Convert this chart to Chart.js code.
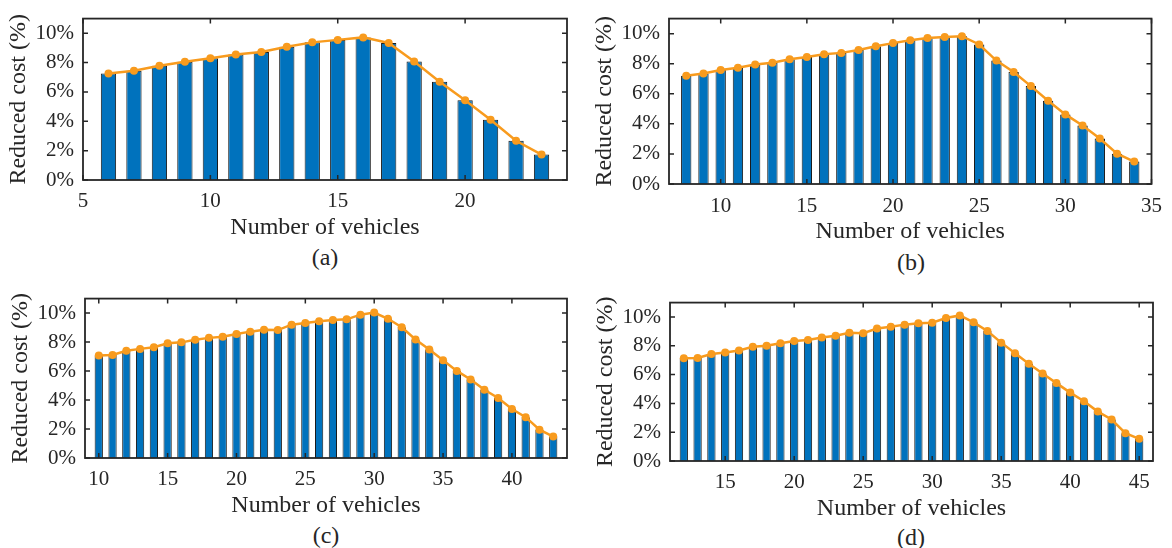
<!DOCTYPE html>
<html>
<head>
<meta charset="utf-8">
<script src="https://cdn.jsdelivr.net/npm/chart.js@4.4.0/dist/chart.umd.min.js"></script>
<style>
  body { margin:0; background:#fff; width:1172px; height:548px; overflow:hidden; position:relative;
         font-family:"Liberation Serif","Times New Roman",serif; }
  canvas { position:absolute; }
  .cap { position:absolute; font-size:24px; color:#262626; transform:translate(-50%,-50%); white-space:nowrap; }
</style>
</head>
<body>
<canvas id="chartA"></canvas>
<canvas id="chartB"></canvas>
<canvas id="chartC"></canvas>
<canvas id="chartD"></canvas>
<div class="cap" style="left:325px;top:257px">(a)</div>
<div class="cap" style="left:911px;top:262px">(b)</div>
<div class="cap" style="left:326px;top:535px">(c)</div>
<div class="cap" style="left:911px;top:537px">(d)</div>
<script>
// values (reduced cost in %)
const vehiclesA = [6,7,8,9,10,11,12,13,14,15,16,17,18,19,20,21,22,23];
const costA = [7.26,7.44,7.78,8.06,8.29,8.55,8.72,9.08,9.38,9.55,9.72,9.34,8.08,6.69,5.43,4.10,2.67,1.73];

const vehiclesB = [8,9,10,11,12,13,14,15,16,17,18,19,20,21,22,23,24,25,26,27,28,29,30,31,32,33,34];
const costB = [7.20,7.35,7.58,7.73,7.94,8.06,8.29,8.44,8.63,8.72,8.91,9.16,9.37,9.56,9.71,9.77,9.83,
               9.28,8.21,7.45,6.51,5.54,4.63,3.89,3.03,2.02,1.49];

const vehiclesC = [10,11,12,13,14,15,16,17,18,19,20,21,22,23,24,25,26,27,28,29,30,31,32,33,34,35,36,37,38,39,40,41,42,43];
const costC = [7.07,7.11,7.40,7.53,7.64,7.92,7.98,8.16,8.29,8.37,8.55,8.72,8.85,8.83,9.20,
               9.31,9.44,9.52,9.57,9.89,10.04,9.61,9.02,8.18,7.48,6.75,6.01,5.42,4.71,4.14,3.38,2.82,1.95,1.48];

const vehiclesD = [12,13,14,15,16,17,18,19,20,21,22,23,24,25,26,27,28,29,30,31,32,33,34,35,36,37,38,39,40,41,42,43,44,45];
const costD = [7.14,7.16,7.43,7.54,7.67,7.93,8.00,8.18,8.33,8.40,8.57,8.70,8.90,8.88,9.20,
               9.32,9.47,9.56,9.60,9.93,10.11,9.63,9.03,8.22,7.49,6.75,6.07,5.41,4.75,4.15,3.43,2.88,1.93,1.54];

const yTicks = [0,2,4,6,8,10];
const xTicksA = [5,10,15,20];
const xTicksB = [10,15,20,25,30,35];
const xTicksC = [10,15,20,25,30,35,40];
const xTicksD = [15,20,25,30,35,40,45];

const INK = '#262626';
const BAR = '#0072BD';
const LINE = '#F89B1E';
const FONT = '"Liberation Serif","Times New Roman",serif';

// box around the axes with inward tick marks (matlab style)
const frame = {
  id:'frame',
  afterDatasetsDraw(chart){
    const {ctx, chartArea:a, scales:{x, y}} = chart;
    ctx.save();
    ctx.strokeStyle = INK; ctx.lineWidth = 1.8;
    ctx.strokeRect(a.left, a.top, a.right-a.left, a.bottom-a.top);
    ctx.lineWidth = 1.5;
    ctx.beginPath();
    x.ticks.forEach(t => {
      const px = x.getPixelForValue(t.value);
      ctx.moveTo(px, a.bottom); ctx.lineTo(px, a.bottom-5);
      ctx.moveTo(px, a.top); ctx.lineTo(px, a.top+5);
    });
    y.ticks.forEach(t => {
      const py = y.getPixelForValue(t.value);
      ctx.moveTo(a.left, py); ctx.lineTo(a.left+5, py);
      ctx.moveTo(a.right, py); ctx.lineTo(a.right-5, py);
    });
    ctx.stroke();
    ctx.restore();
  }
};

function makePanel(id, area, xs, vals, xTicks, xMin, xMax, tickPad){
  const yw = 83, xh = 62, padTop = 12, padRight = 19;
  const cv = document.getElementById(id);
  const left = area.l - yw, top = area.t - padTop;
  const w = area.r - left + padRight, h = area.b - top + xh;
  cv.style.left = left + 'px'; cv.style.top = top + 'px';
  cv.width = w; cv.height = h;
  cv.style.width = w + 'px'; cv.style.height = h + 'px';
  const pts = xs.map((v,i) => ({x:v, y:vals[i]}));
  new Chart(cv, {
    data:{ datasets:[
      { type:'line', data:pts, borderColor:LINE, backgroundColor:LINE, borderWidth:2.5,
        pointRadius:4, pointBorderWidth:0, pointBackgroundColor:LINE, tension:0, order:0 },
      { type:'bar', data:pts, backgroundColor:BAR, borderColor:'#1a1a1a', borderWidth:1,
        barPercentage:1, categoryPercentage:0.6, order:1 }
    ]},
    options:{
      responsive:false, animation:false,
      layout:{ padding:{ top:padTop, right:padRight, left:0, bottom:0 } },
      plugins:{ legend:{display:false}, tooltip:{enabled:false} },
      scales:{
        x:{ type:'linear', min:xMin, max:xMax, offset:false,
            grid:{display:false, drawTicks:false}, border:{display:false},
            afterBuildTicks: s => { s.ticks = xTicks.map(v => ({value:v})); },
            afterFit: s => { s.height = xh; },
            ticks:{ color:INK, padding:tickPad, autoSkip:false, maxRotation:0,
                    font:{family:FONT, size:21, lineHeight:1.2} },
            title:{ display:true, text:'Number of vehicles', color:INK, padding:0,
                    font:{family:FONT, size:24, lineHeight:1.2} } },
        y:{ min:0, max:11,
            grid:{display:false, drawTicks:false}, border:{display:false},
            afterBuildTicks: s => { s.ticks = yTicks.map(v => ({value:v})); },
            afterFit: s => { s.width = yw; },
            ticks:{ color:INK, padding:9, callback: v => v + '%',
                    font:{family:FONT, size:21, lineHeight:1.2} },
            title:{ display:true, text:'Reduced cost (%)', color:INK, padding:{top:4, bottom:0},
                    font:{family:FONT, size:24, lineHeight:1.2} } }
      }
    },
    plugins:[frame]
  });
}

makePanel('chartA', {l:83, r:567, t:9, b:180}, vehiclesA, costA, xTicksA, 5, 24, 9);
makePanel('chartB', {l:669, r:1153, t:9, b:184}, vehiclesB, costB, xTicksB, 7, 35, 10);
makePanel('chartC', {l:85, r:567, t:289, b:458}, vehiclesC, costC, xTicksC, 9, 44, 9);
makePanel('chartD', {l:670, r:1153, t:293, b:461}, vehiclesD, costD, xTicksD, 11, 46, 9);
</script>
</body>
</html>
